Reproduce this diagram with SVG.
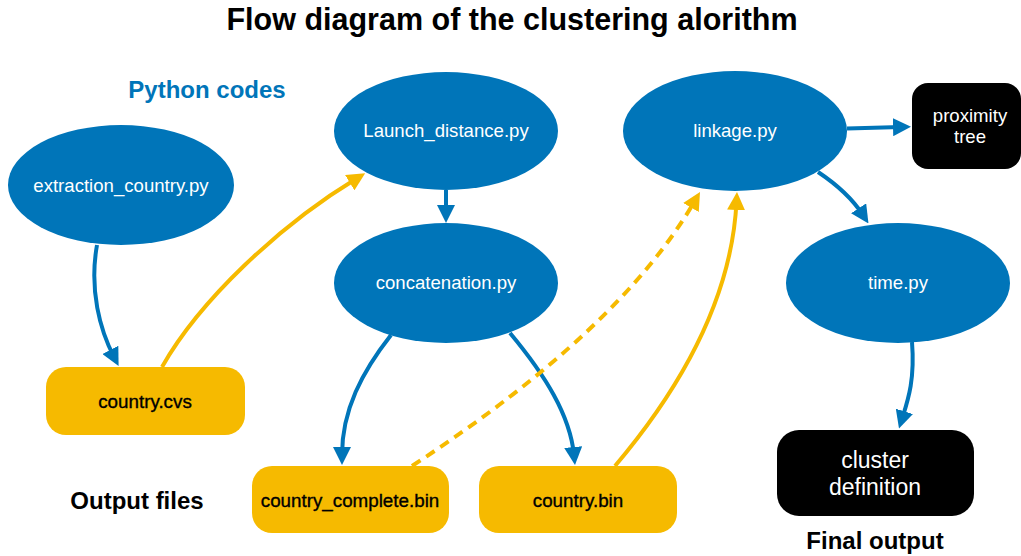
<svg xmlns="http://www.w3.org/2000/svg" width="1021" height="556" viewBox="0 0 1021 556">
<style>
.bl{fill:#0075B9}
.yl{fill:#F6BA00}
.bk{fill:#000}
.wt{font-family:"Liberation Sans",Arial,sans-serif;font-size:18.6px;fill:#fff;text-anchor:middle}
.dk{font-family:"Liberation Sans",Arial,sans-serif;font-size:18.8px;fill:#000;stroke:#000;stroke-width:0.35px;text-anchor:middle}
.hd{font-family:"Liberation Sans",Arial,sans-serif;font-weight:bold;text-anchor:middle}
.cb{fill:none;stroke:#0075B9;stroke-width:4}
.cy{fill:none;stroke:#F6BA00;stroke-width:4}
</style>
<defs>
<marker id="ab" viewBox="0 0 18 18" refX="8" refY="9" markerWidth="18" markerHeight="18" markerUnits="userSpaceOnUse" orient="auto"><path d="M0,0 L18,9 L0,18 z" fill="#0075B9"/></marker>
<marker id="ay" viewBox="0 0 18 18" refX="8" refY="9" markerWidth="18" markerHeight="18" markerUnits="userSpaceOnUse" orient="auto"><path d="M0,0 L18,9 L0,18 z" fill="#F6BA00"/></marker>
</defs>
<rect width="1021" height="556" fill="#fff"/>
<text class="hd" x="512" y="30" style="font-size:30.5px" fill="#000">Flow diagram of the clustering alorithm</text>
<text class="hd" x="207" y="98" style="font-size:24px" fill="#0075B9">Python codes</text>
<text class="hd" x="137" y="509" style="font-size:24px" fill="#000">Output files</text>
<text class="hd" x="875" y="549" style="font-size:24px" fill="#000">Final output</text>
<g id="connectors">
<path class="cb" d="M97,245 C89,290 100,330 114,357" marker-end="url(#ab)"/>
<path class="cy" d="M162,367 C200,300 280,225 356.6,178.5" marker-end="url(#ay)"/>
<path class="cb" d="M446,190 L446,213" marker-end="url(#ab)"/>
<path class="cb" d="M391,335 C362,372 342,410 342,455" marker-end="url(#ab)"/>
<path class="cb" d="M510,333 C545,375 570,415 574,455" marker-end="url(#ab)"/>
<path class="cy" d="M412,466 Q620,330 695,200.6" stroke-dasharray="10,7" marker-end="url(#ay)"/>
<path class="cy" d="M615,466 Q730,330 736.5,202" marker-end="url(#ay)"/>
<path class="cb" d="M847,128.5 L901,127" marker-end="url(#ab)"/>
<path class="cb" d="M818,172 Q848,192 863,215" marker-end="url(#ab)"/>
<path class="cb" d="M912,342 C915,380 908,400 902,419" marker-end="url(#ab)"/>
</g>
<g id="extraction">
<ellipse class="bl" cx="121" cy="185" rx="113" ry="60"/>
<text class="wt" x="121" y="192">extraction_country.py</text>
</g>
<g id="launch">
<ellipse class="bl" cx="446" cy="131" rx="112" ry="59"/>
<text class="wt" x="446" y="137">Launch_distance.py</text>
</g>
<g id="concatenation">
<ellipse class="bl" cx="446" cy="283" rx="112" ry="60"/>
<text class="wt" x="446" y="289">concatenation.py</text>
</g>
<g id="linkage">
<ellipse class="bl" cx="735" cy="131" rx="112" ry="60"/>
<text class="wt" x="735" y="137">linkage.py</text>
</g>
<g id="time">
<ellipse class="bl" cx="898" cy="283" rx="112" ry="60"/>
<text class="wt" x="898" y="289">time.py</text>
</g>
<g id="proximity">
<rect class="bk" x="912" y="83" width="109" height="86" rx="16"/>
<text class="wt" x="970" y="122">proximity</text>
<text class="wt" x="970" y="143">tree</text>
</g>
<g id="cluster">
<rect class="bk" x="777" y="430" width="197" height="86" rx="22"/>
<text class="wt" x="875" y="468" style="font-size:23px">cluster</text>
<text class="wt" x="875" y="495" style="font-size:23px">definition</text>
</g>
<g id="cvs">
<rect class="yl" x="46" y="367" width="199" height="68" rx="20"/>
<text class="dk" x="145" y="408">country.cvs</text>
</g>
<g id="complete">
<rect class="yl" x="252" y="466" width="197" height="67" rx="20"/>
<text class="dk" x="350" y="507">country_complete.bin</text>
</g>
<g id="bin">
<rect class="yl" x="479" y="466" width="198" height="67" rx="20"/>
<text class="dk" x="578" y="507">country.bin</text>
</g>
</svg>
